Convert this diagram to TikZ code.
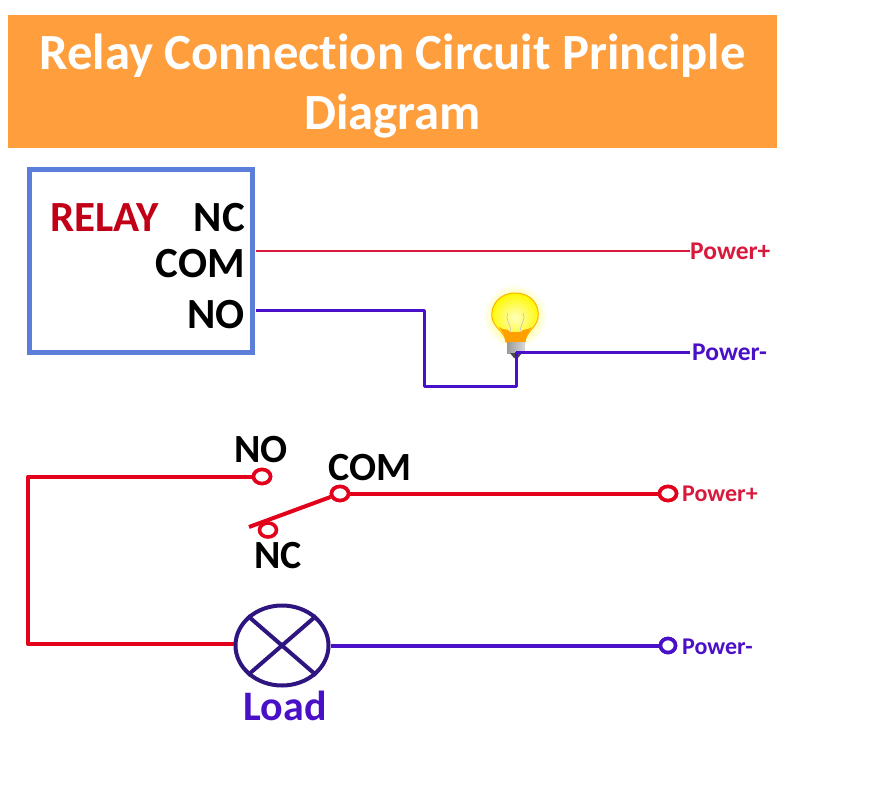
\documentclass[tikz,border=0pt]{standalone}
\usepackage{fontspec}
\setmainfont{Carlito}[Ligatures=NoCommon]
\usetikzlibrary{shapes.geometric}
\definecolor{wirered}{HTML}{E3001B}
\definecolor{wirecrim}{HTML}{D8193C}
\definecolor{wireblue}{HTML}{4A10C8}
\definecolor{lampblue}{HTML}{2E1580}
\definecolor{titleorange}{HTML}{FF9E3D}
\definecolor{boxblue}{HTML}{5B7FD8}
\tikzset{
	lab/.style={black, font=\bfseries\fontsize{40}{40}\selectfont, inner sep=0pt},
	biglab/.style={black, font=\bfseries\fontsize{43}{43}\selectfont, inner sep=0pt},
	pow/.style={font=\bfseries\fontsize{24}{24}\selectfont, inner sep=0pt, anchor=west},
	term/.style={draw=wirered, ellipse, line width=3.6pt, fill=white, minimum width=17pt, minimum height=14pt, inner sep=0pt},
	blueterm/.style={term, draw=wireblue, minimum width=15pt, minimum height=14pt},
	redwire/.style={wirered, line width=4pt, line join=round},
	bluewire/.style={wireblue, line width=4pt, line join=round},
	thinred/.style={wirecrim, line width=2.6pt},
	thinblue/.style={wireblue, line width=3pt, line join=round}
}
\begin{document}
\begin{tikzpicture}[x=1pt, y=-1pt]
	\useasboundingbox (0,0) rectangle (887,785);

	% title
	\fill[titleorange] (8,15) rectangle (777,148);
	\node[white, align=center, font=\bfseries\fontsize{50.7}{60}\selectfont] (title) at (392.5,86) {Relay Connection Circuit Principle\\Diagram};

	% relay box
	\draw[boxblue, line width=5pt] (29,169) rectangle (252.5,352);
	\node[biglab, text=wirered!85!black, anchor=west] (relay) at (50,218) {RELAY};
	\node[biglab, anchor=east] (nc) at (245,218) {NC};
	\node[biglab, anchor=east] (com) at (245,264) {COM};
	\node[biglab, anchor=east] (no) at (245,315) {NO};
	\node[pow, font=\bfseries\fontsize{25.5}{25.5}\selectfont, text=wirecrim] (plusa) at (690,251) {Power+};
	\node[pow, font=\bfseries\fontsize{25.5}{25.5}\selectfont, text=wireblue] (minusa) at (692,352) {Power-};

	% bulb
	\shade[inner color=yellow!90!white, outer color=white] (515,316) circle (32);
	\draw[orange!60!yellow, line width=1pt, inner color=yellow!25!white, outer color=yellow!95!orange] (515,293) .. controls (532,293) and (540,306) .. (538,318)
		.. controls (536,328) and (526,332) .. (525,342) -- (506,342)
		.. controls (505,332) and (494,328) .. (492,318)
		.. controls (490,306) and (499,293) .. (515,293) -- cycle;
	\fill[orange!75!yellow] (525,342) .. controls (526,336) and (529,331) .. (532,327)
		.. controls (527,331) and (523,328) .. (521,332) -- (510,332)
		.. controls (508,328) and (504,331) .. (499,327)
		.. controls (502,331) and (505,336) .. (506,342) -- cycle;
	\draw[gray!45, line width=0.7pt] (511,332) .. controls (510,322) and (505,320) .. (508,313) (520,332) .. controls (521,322) and (526,320) .. (523,313);
	\shade[left color=gray!80, right color=gray!30] (507,342) rectangle (525,353);
	\fill[black!70] (510,353) -- (522,353) -- (518,358) -- (514,358) -- cycle;

	\coordinate (base) at (516,352);
	\coordinate (outa) at (256,251);
	\coordinate (outb) at (256,310);
	\coordinate (enda) at (690,251);
	\coordinate (endb) at (690,352);
	\draw[thinred] (outa) -- (enda);
	\draw[thinblue] (outb) -- (424,310) -- (424,386) -- (516,386) -- (base);
	\draw[thinblue] (base) -- (endb);

	% switch and load
	\node[term] (tno) at (262,476.5) {};
	\node[term] (tcom) at (340,493.5) {};
	\node[term] (tnc) at (268,530) {};
	\node[term] (tplus) at (668,493.5) {};
	\node[blueterm] (tminus) at (668,645.5) {};
	\node[draw=lampblue, ellipse, line width=4pt, minimum width=93pt, minimum height=80pt, inner sep=0pt] (lamp) at (282,645.5) {};
	\draw[lampblue, line width=4pt] (lamp.north west) -- (lamp.south east);
	\draw[lampblue, line width=4pt] (lamp.north east) -- (lamp.south west);

	\coordinate (armend) at (249,527);
	\draw[redwire] (tno) -- (28,476.5) -- (28,644) -- (lamp.west |- 0,644);
	\draw[redwire] (tcom) -- (tplus);
	\draw[redwire] (tcom) -- (armend);
	\draw[bluewire] (lamp.east) -- (tminus);
	\node[term] at (tno) {};
	\node[term] at (tcom) {};
	\node[term] at (tplus) {};
	\node[blueterm] at (tminus) {};

	\node[lab] (lno) at (261,450) {NO};
	\node[lab] (lcom) at (370,468) {COM};
	\node[lab] (lnc) at (278,556) {NC};
	\node[lab, font=\bfseries\fontsize{42}{42}\selectfont, text=wireblue] (lload) at (285,706) {Load};
	\node[pow, text=wirecrim] (plusb) at (682,494) {Power+};
	\node[pow, text=wireblue] (minusb) at (682,647) {Power-};
\end{tikzpicture}
\end{document}
